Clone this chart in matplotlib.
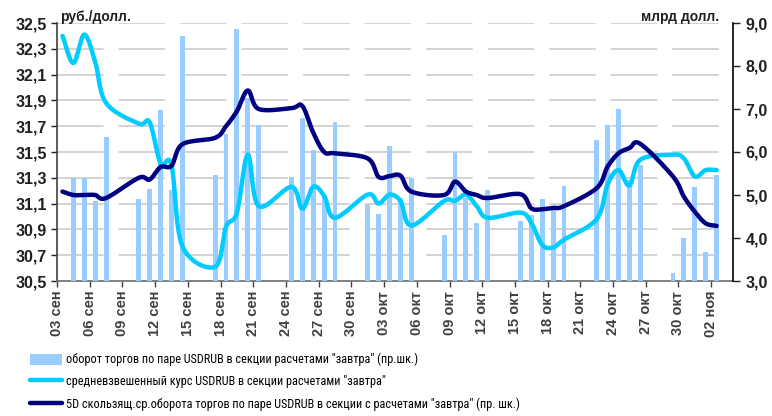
import matplotlib
matplotlib.use("Agg")
import matplotlib.pyplot as plt
from matplotlib import font_manager
from matplotlib.lines import Line2D
from matplotlib.patches import Patch
import numpy as np
import pandas as pd

BAR = "#99CCFF"
CYAN = "#00CCFF"
NAVY = "#000080"
GRID = "#C8C8C8"
DARK = "#202020"

# ── Data ──────────────────────────────────────────────────────────────────────
trade_days = [
    "2012-09-03", "2012-09-04", "2012-09-05", "2012-09-06", "2012-09-07",
    "2012-09-10", "2012-09-11", "2012-09-12", "2012-09-13", "2012-09-14",
    "2012-09-17", "2012-09-18", "2012-09-19", "2012-09-20", "2012-09-21",
    "2012-09-24", "2012-09-25", "2012-09-26", "2012-09-27", "2012-09-28",
    "2012-10-01", "2012-10-02", "2012-10-03", "2012-10-04", "2012-10-05",
    "2012-10-08", "2012-10-09", "2012-10-10", "2012-10-11", "2012-10-12",
    "2012-10-15", "2012-10-16", "2012-10-17", "2012-10-18", "2012-10-19",
    "2012-10-22", "2012-10-23", "2012-10-24", "2012-10-25", "2012-10-26",
    "2012-10-29", "2012-10-30", "2012-10-31", "2012-11-01", "2012-11-02",
]
# turnover, bn USD (right axis)
turnover = [
    np.nan, 5.40, 5.40, 4.86, 6.35,
    4.91, 5.14, 6.98, 5.12, 8.70,
    5.47, 6.43, 8.86, 7.25, 6.63,
    5.42, 6.80, 6.05, 4.96, 6.70,
    4.77, 4.56, 6.14, 4.93, 5.40,
    4.07, 5.99, 4.93, 4.36, 5.12,
    4.40, 4.53, 4.91, 4.64, 5.21,
    6.28, 6.63, 7.00, 5.34, 5.70,
    3.19, 4.00, 5.19, 3.67, 5.47,
]
# weighted average rate, RUB per USD (left axis)
rate = [
    32.40, 32.19, 32.41, 32.20, 31.88,
    31.72, 31.73, 31.41, 31.40, 30.77,
    30.61, 30.92, 31.03, 31.48, 31.08,
    31.23, 31.06, 31.23, 31.16, 30.99,
    31.17, 31.10, 31.17, 31.12, 30.93,
    31.12, 31.12, 31.17, 31.08, 30.99,
    31.03, 30.95, 30.78, 30.76, 30.82,
    30.98, 31.25, 31.36, 31.24, 31.44,
    31.48, 31.45, 31.31, 31.36, 31.36,
]
# 5-day moving average of turnover (right axis)
ma5 = [
    5.08, 5.00, 5.00, 5.00, 4.93,
    5.40, 5.36, 5.65, 5.68, 6.18,
    6.33, 6.60, 6.95, 7.43, 7.00,
    7.02, 7.07, 6.45, 6.00, 5.97,
    5.85, 5.42, 5.44, 5.45, 5.08,
    5.00, 5.31, 5.08, 5.00, 4.93,
    5.02, 4.69, 4.67, 4.70, 4.74,
    5.16, 5.66, 5.97, 6.09, 6.19,
    5.43, 4.96, 4.61, 4.34, 4.28,
]

start = pd.Timestamp("2012-09-03")
end = pd.Timestamp("2012-11-05")
months_ru = {9: "сен", 10: "окт", 11: "ноя"}

labels = [
    "оборот торгов по паре USDRUB в секции расчетами \"завтра\" (пр.шк.)",
    "средневзвешенный курс USDRUB в секции расчетами \"завтра\"",
    "5D скользящ.ср.оборота торгов по паре USDRUB в секции с расчетами \"завтра\" (пр. шк.)",
]


def smooth(x, y, n=16):
    """Catmull-Rom curve through the points, like Excel's smoothed line."""
    x = np.asarray(x, float)
    y = np.asarray(y, float)
    t = np.linspace(0, 1, n, endpoint=False)[:, None]
    res = []
    for p in (x, y):
        p = np.concatenate([[2 * p[0] - p[1]], p, [2 * p[-1] - p[-2]]])
        p0, p1, p2, p3 = p[:-3], p[1:-2], p[2:-1], p[3:]
        seg = 0.5 * ((2 * p1) + (-p0 + p2) * t + (2 * p0 - 5 * p1 + 4 * p2 - p3) * t ** 2
                     + (-p0 + 3 * p1 - 3 * p2 + p3) * t ** 3)
        res.append(np.concatenate([seg.T.ravel(), [p[-2]]]))
    return res[0], res[1]


def main():
    plt.rcParams["font.family"] = ["Liberation Sans", "DejaVu Sans"]
    plt.rcParams["lines.scale_dashes"] = False

    # a condensed face fits the legend best; fall back to a smaller size otherwise
    installed = {f.name for f in font_manager.fontManager.ttflist}
    if "Roboto Condensed" in installed:
        legend_prop = {"family": ["Roboto Condensed", "DejaVu Sans"], "size": 8.8}
    else:
        legend_prop = {"family": ["Liberation Sans", "DejaVu Sans"], "size": 8.3}

    days = pd.to_datetime(trade_days)
    x = np.array([(d - start).days for d in days]) + 0.5

    fig = plt.figure(figsize=(7.72, 4.16), dpi=100)
    ax = fig.add_axes([57 / 772, 1 - 281 / 416, 676 / 772, 258 / 416])
    ax2 = ax.twinx()

    # grid on the bottom axes so everything else sits above it
    ax.set_ylim(30.5, 32.5)
    ax.set_yticks(np.arange(30.5, 32.51, 0.2))
    ax.set_yticklabels([f"{v:.1f}".replace(".", ",") for v in np.arange(30.5, 32.51, 0.2)])
    ax.yaxis.grid(True, color=GRID, linewidth=1.1, linestyle=(0, (33.5, 10.8)))
    ax.set_axisbelow(True)

    ax2.set_ylim(3, 9)
    ax2.set_yticks(np.arange(3, 9.01, 1))
    ax2.set_yticklabels([f"{v:.1f}".replace(".", ",") for v in np.arange(3, 9.01, 1)])

    ax2.bar(x, turnover, width=0.45, color=BAR, zorder=1)
    cx, cy = smooth(x, rate)
    ax2.plot(cx, cy, color=CYAN, lw=3.2, solid_capstyle="round", transform=ax.transData, zorder=2)
    nx, ny = smooth(x, ma5)
    ax2.plot(nx, ny, color=NAVY, lw=3.2, solid_capstyle="round", zorder=3)

    total_days = (end - start).days - 1
    ax.set_xlim(0, total_days)
    tick_days = np.arange(0, 61, 3)
    ax.set_xticks(tick_days)
    tick_dates = [start + pd.Timedelta(days=int(d)) for d in tick_days]
    ax.set_xticklabels([f"{d.day:02d} {months_ru[d.month]}" for d in tick_dates],
                       rotation=90, fontsize=10.5, fontweight="bold", color=DARK)

    for a in (ax, ax2):
        a.spines["top"].set_visible(False)
    ax.spines["right"].set_visible(False)
    ax.spines["left"].set_color("#404040")
    ax.spines["bottom"].set_color("#707070")
    ax.spines["left"].set_linewidth(1.2)
    ax.spines["bottom"].set_linewidth(1.2)
    ax2.spines["left"].set_visible(False)
    ax2.spines["bottom"].set_visible(False)
    ax2.spines["right"].set_color("black")
    ax2.spines["right"].set_linewidth(1.2)

    ax.tick_params(axis="y", length=4, width=1, pad=3, labelsize=11.5, colors=DARK)
    ax.tick_params(axis="x", length=4, width=1, pad=3, colors="#404040")
    ax2.tick_params(axis="y", length=5, width=1, pad=4, labelsize=11.5, colors=DARK)
    for t in ax.get_yticklabels() + ax2.get_yticklabels():
        t.set_fontweight("bold")

    ax.text(0.005, 1.008, "руб./долл.", transform=ax.transAxes, fontsize=10,
            fontweight="bold", ha="left", va="baseline", color=DARK)
    ax.text(0.98, 1.008, "млрд долл.", transform=ax.transAxes, fontsize=10,
            fontweight="bold", ha="right", va="baseline", color=DARK)

    handles = [
        Patch(facecolor=BAR, edgecolor="none"),
        Line2D([], [], color=CYAN, lw=3.2, solid_capstyle="round"),
        Line2D([], [], color=NAVY, lw=3.2, solid_capstyle="round"),
    ]
    fs = legend_prop["size"] * 100 / 72
    fig.legend(handles, labels, loc="upper left", bbox_to_anchor=(30 / 772, 1 - 353 / 416),
               frameon=False, prop=legend_prop, handlelength=32 / fs,
               handleheight=13 / fs, handletextpad=4 / fs, labelspacing=(22 - 13) / fs,
               borderpad=0, borderaxespad=0)

    fig.savefig("out.png", dpi=100, facecolor="white")
    plt.close(fig)


if __name__ == "__main__":
    main()
